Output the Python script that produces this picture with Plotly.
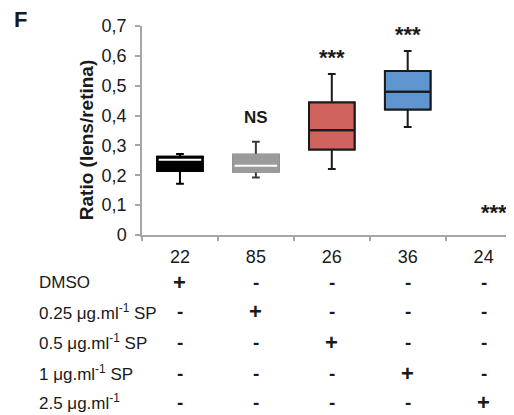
import plotly.graph_objects as go

# ---- data ----
n_labels = ["22", "85", "26", "36", "24"]
group_names = ["DMSO", "0.25 μg.ml<sup>-1</sup> SP", "0.5 μg.ml<sup>-1</sup> SP",
               "1 μg.ml<sup>-1</sup> SP", "2.5 μg.ml<sup>-1</sup>"]
lower_fence = [0.172, 0.193, 0.221, 0.362, None]
q1_vals = [0.214, 0.213, 0.286, 0.420, None]
median_vals = [0.252, 0.232, 0.351, 0.480, None]
q3_vals = [0.262, 0.269, 0.444, 0.549, None]
upper_fence = [0.271, 0.312, 0.539, 0.616, None]
sig_labels = ["", "NS", "***", "***", "***"]
sig_no_box_y = 0.087
treatment_table = [
    ["+", "-", "-", "-", "-"],
    ["-", "+", "-", "-", "-"],
    ["-", "-", "+", "-", "-"],
    ["-", "-", "-", "+", "-"],
    ["-", "-", "-", "-", "+"],
]
y_ticks = [0, 0.1, 0.2, 0.3, 0.4, 0.5, 0.6, 0.7]
y_ticktext = ["0", "0,1", "0,2", "0,3", "0,4", "0,5", "0,6", "0,7"]

# ---- styles ----
fill_colors = ["#000000", "#9b9b9b", "#d0635e", "#6096d0", None]
edge_colors = ["#000000", "#9b9b9b", "#1a1a1a", "#1a1a1a", None]
whisker_colors = ["#000000", "#3a3a3a", "#1a1a1a", "#1a1a1a", None]
median_colors = ["#ffffff", "#ffffff", "#1a1a1a", "#1a1a1a", None]
BOX_W = 0.6
FONT = "Liberation Sans, Arial, sans-serif"
TXT = "#1a1a1a"
AX = "#a6a6a6"

fig = go.Figure()
for i in range(len(n_labels)):
    if q1_vals[i] is None:
        continue
    # whiskers
    fig.add_trace(go.Box(
        x=[i], q1=[q1_vals[i]], median=[median_vals[i]], q3=[q3_vals[i]],
        lowerfence=[lower_fence[i]], upperfence=[upper_fence[i]],
        width=BOX_W, whiskerwidth=0.17, fillcolor="rgba(0,0,0,0)",
        line=dict(color=whisker_colors[i], width=2), showlegend=False,
        hoverinfo="skip"))
    # box body
    fig.add_trace(go.Box(
        x=[i], q1=[q1_vals[i]], median=[median_vals[i]], q3=[q3_vals[i]],
        lowerfence=[q1_vals[i]], upperfence=[q3_vals[i]],
        width=BOX_W, whiskerwidth=0, fillcolor=fill_colors[i],
        line=dict(color=edge_colors[i], width=2), showlegend=False,
        hoverinfo="skip"))
    # median line
    fig.add_trace(go.Scatter(
        x=[i - BOX_W / 2 + 0.02, i + BOX_W / 2 - 0.02],
        y=[median_vals[i], median_vals[i]], mode="lines",
        line=dict(color=median_colors[i], width=2), showlegend=False,
        hoverinfo="skip"))

annotations = []
# significance labels
for i, lab in enumerate(sig_labels):
    if not lab:
        continue
    if upper_fence[i] is not None:
        annotations.append(dict(x=i, y=upper_fence[i], xref="x", yref="y",
                                text="<b>%s</b>" % lab, showarrow=False,
                                yanchor="bottom", yshift=13 if lab == "NS" else 2,
                                font=dict(size=22 if lab != "NS" else 17, family=FONT, color=TXT)))
    else:
        annotations.append(dict(x=i + 0.14, y=sig_no_box_y, xref="x", yref="y",
                                text="<b>%s</b>" % lab, showarrow=False,
                                yanchor="middle", yshift=-3,
                                font=dict(size=22, family=FONT, color=TXT)))

# treatment table
row_y = [-0.225, -0.368, -0.512, -0.662, -0.800]
for r, name in enumerate(group_names):
    annotations.append(dict(x=-0.281, y=row_y[r], xref="paper", yref="paper",
                            text=name, showarrow=False, xanchor="left",
                            yanchor="middle",
                            font=dict(size=17, family=FONT, color=TXT)))
    for c, sign in enumerate(treatment_table[r]):
        annotations.append(dict(x=c, y=row_y[r], xref="x", yref="paper",
                                text="<b>%s</b>" % sign, showarrow=False,
                                xanchor="center", yanchor="middle",
                                font=dict(size=22 if sign == "+" else 19,
                                          family=FONT, color=TXT)))

# y title
annotations.append(dict(x=-0.147, y=0.455, xref="paper", yref="paper",
                        text="<b>Ratio (lens/retina)</b>", textangle=-90,
                        showarrow=False, xanchor="center", yanchor="middle",
                        font=dict(size=19, family=FONT, color=TXT)))
# panel letter
annotations.append(dict(x=-0.327, y=1.03, xref="paper", yref="paper",
                        text="<b>F</b>", showarrow=False, xanchor="center",
                        yanchor="middle",
                        font=dict(size=22, family=FONT, color=TXT)))

# the page body adds an 8px offset, so the figure is drawn 8px smaller
fig.update_layout(
    width=506, height=407,
    margin=dict(l=134, r=0, t=18, b=180),
    paper_bgcolor="white", plot_bgcolor="white",
    boxmode="overlay",
    annotations=annotations,
    font=dict(family=FONT, color=TXT),
)
fig.update_xaxes(
    range=[-0.5, 4.4], tickmode="array",
    tickvals=list(range(len(n_labels))), ticktext=n_labels,
    ticks="", showgrid=False, zeroline=False,
    showline=True, linecolor=AX, linewidth=1.5,
    tickfont=dict(size=18, family=FONT, color=TXT),
    ticklabelstandoff=5,
    minor=dict(tickvals=[k - 0.5 for k in range(len(n_labels) + 1)],
               ticks="outside", ticklen=4, tickcolor=AX, tickwidth=1.5,
               showgrid=False),
)
fig.update_yaxes(
    range=[0, 0.7], tickmode="array", tickvals=y_ticks, ticktext=y_ticktext,
    ticks="outside", ticklen=5, tickcolor=AX, tickwidth=1.5,
    showgrid=False, zeroline=False,
    showline=True, linecolor=AX, linewidth=1.5,
    tickfont=dict(size=18, family=FONT, color=TXT),
    ticklabelstandoff=5,
)

fig.write_html("out.html")
